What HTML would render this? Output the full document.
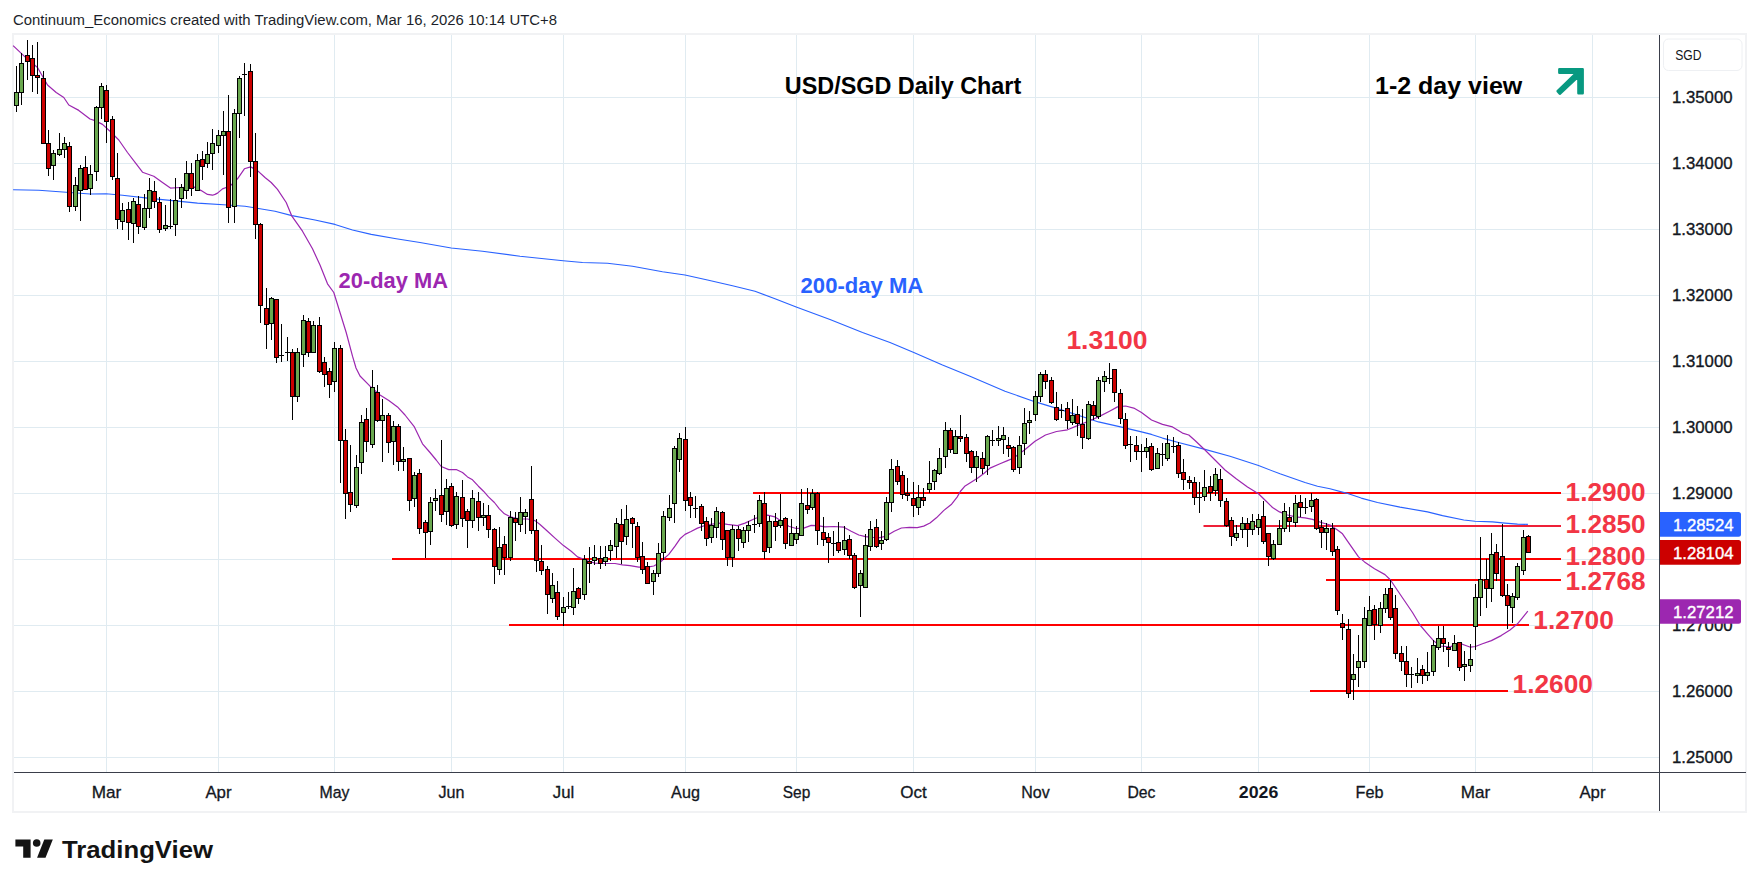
<!DOCTYPE html>
<html><head><meta charset="utf-8"><title>USD/SGD Daily Chart</title>
<style>
html,body{margin:0;padding:0;background:#fff;}
body{width:1759px;height:887px;overflow:hidden;font-family:"Liberation Sans",sans-serif;}
svg{display:block}
text{font-family:"Liberation Sans",sans-serif;}
</style></head><body>
<svg width="1759" height="887" viewBox="0 0 1759 887">
<rect width="1759" height="887" fill="#fff"/>
<text x="13" y="24.6" font-size="14" fill="#1c1f2a" textLength="544" lengthAdjust="spacingAndGlyphs">Continuum_Economics created with TradingView.com, Mar 16, 2026 10:14 UTC+8</text>
<rect x="13" y="34" width="1733" height="778" fill="#fff" stroke="#f1f2f4" stroke-width="2"/>
<path d="M106 35h1v737h-1zM218 35h1v737h-1zM334 35h1v737h-1zM451 35h1v737h-1zM563 35h1v737h-1zM685 35h1v737h-1zM796 35h1v737h-1zM913 35h1v737h-1zM1035 35h1v737h-1zM1141 35h1v737h-1zM1258 35h1v737h-1zM1369 35h1v737h-1zM1475 35h1v737h-1zM1592 35h1v737h-1zM14 97h1645v1h-1645zM14 163h1645v1h-1645zM14 229h1645v1h-1645zM14 295h1645v1h-1645zM14 361h1645v1h-1645zM14 427h1645v1h-1645zM14 493h1645v1h-1645zM14 559h1645v1h-1645zM14 625h1645v1h-1645zM14 691h1645v1h-1645zM14 757h1645v1h-1645z" fill="#e0ebf1" shape-rendering="crispEdges"/>
<path d="M753 492h808v2h-808zM392 558h1169v2h-1169zM1326 579h235v2h-235zM509 624h1020v2h-1020zM1310 690h198v2h-198z" fill="#ff0000" shape-rendering="crispEdges"/>
<rect x="1203.5" y="525" width="357.5" height="2" fill="#ee2038"/>
<path d="M13.1 189.8 L38.8 190.2 L66.2 192.2 L90.0 194.0 L106.2 193.8 L122.5 195.2 L147.5 198.1 L172.5 200.6 L197.5 203.1 L227.5 205.0 L245.0 206.2 L275.0 211.2 L291.9 215.6 L315.0 220.0 L335.0 224.4 L352.5 230.0 L371.2 234.4 L396.2 238.8 L420.0 242.5 L451.2 248.0 L482.5 251.2 L520.0 256.2 L563.2 260.8 L582.5 262.5 L607.5 263.2 L632.5 266.2 L662.5 271.8 L685.0 275.0 L707.5 280.0 L732.5 285.8 L755.0 291.2 L775.0 298.8 L796.2 307.0 L830.0 319.5 L862.5 332.5 L890.0 342.5 L913.8 352.5 L942.5 365.0 L970.0 376.2 L1005.0 391.2 L1035.5 401.9 L1060.0 409.4 L1085.0 417.5 L1098.5 421.9 L1120.5 426.9 L1141.5 431.9 L1151.5 434.4 L1162.5 438.1 L1178.5 442.5 L1205.0 449.4 L1230.0 456.2 L1258.5 465.6 L1280.0 473.8 L1305.0 482.5 L1317.5 486.2 L1330.0 488.8 L1346.2 493.1 L1361.2 498.1 L1377.5 502.5 L1400.0 507.1 L1427.5 511.9 L1442.5 515.6 L1463.8 520.0 L1475.0 521.2 L1492.5 521.9 L1505.0 523.1 L1517.5 524.1 L1527.9 524.4" fill="none" stroke="#2962ff" stroke-width="1.1" stroke-linejoin="round"/>
<path d="M13.1 45.6 L25.0 56.9 L37.5 67.5 L47.5 85.0 L56.2 92.5 L63.8 97.5 L68.8 105.0 L78.8 110.4 L90.0 119.0 L95.0 120.6 L102.5 124.4 L110.0 131.2 L118.8 140.0 L127.5 152.5 L136.2 163.8 L142.5 172.2 L153.8 176.2 L162.5 182.5 L170.4 188.1 L180.0 187.5 L195.0 187.2 L201.2 190.6 L207.5 194.4 L212.5 195.2 L215.0 194.4 L217.5 193.1 L222.5 188.9 L227.5 187.0 L231.2 185.0 L237.5 178.8 L244.4 168.8 L250.6 166.9 L257.5 170.6 L265.0 177.5 L271.2 182.5 L277.5 189.4 L286.2 202.5 L291.9 216.2 L302.5 231.2 L312.5 248.8 L320.0 265.0 L327.5 283.8 L333.8 292.5 L340.0 312.5 L346.2 332.5 L352.5 356.2 L356.0 368.0 L360.0 376.0 L370.0 386.2 L380.0 395.0 L388.8 400.6 L397.5 406.9 L405.0 415.0 L414.4 426.9 L422.5 443.8 L430.0 452.5 L436.2 460.0 L441.2 466.5 L448.8 469.6 L456.2 469.5 L462.5 472.5 L467.5 476.9 L472.5 479.8 L478.4 486.2 L483.5 491.2 L488.5 496.9 L494.4 502.5 L499.4 508.8 L504.4 513.8 L510.4 516.9 L515.4 518.1 L520.4 518.8 L527.5 519.0 L535.0 520.6 L540.0 524.5 L547.5 531.2 L555.0 538.1 L563.5 545.6 L571.2 551.2 L577.5 556.9 L582.5 558.8 L588.8 561.2 L595.0 563.1 L605.0 563.5 L615.0 563.5 L622.5 564.8 L630.0 565.6 L638.8 567.2 L647.5 567.2 L653.8 566.0 L660.0 562.5 L663.8 558.8 L668.8 554.4 L675.0 546.2 L680.0 538.8 L685.0 534.4 L691.0 531.5 L697.5 528.1 L706.2 525.0 L718.8 523.1 L727.5 524.4 L737.5 525.6 L745.0 523.1 L754.5 518.8 L761.2 516.2 L767.5 515.2 L775.0 516.9 L780.5 520.6 L788.8 526.2 L796.2 528.5 L803.8 528.1 L811.2 525.4 L817.5 525.6 L825.0 526.9 L833.8 526.5 L843.8 527.2 L851.2 531.2 L858.8 535.0 L865.5 536.7 L873.8 537.5 L880.0 537.6 L885.0 536.4 L888.7 534.5 L894.2 531.3 L901.4 528.0 L909.4 527.4 L917.3 527.6 L923.7 526.1 L930.0 523.0 L936.4 517.8 L943.6 510.6 L951.6 504.2 L957.1 497.1 L960.3 491.5 L965.1 485.9 L971.5 481.9 L977.8 478.0 L984.2 473.2 L990.0 468.1 L1000.0 463.8 L1007.5 460.6 L1013.8 458.0 L1017.5 455.0 L1024.5 450.0 L1035.0 441.2 L1045.5 435.0 L1056.5 431.5 L1067.5 429.8 L1077.5 425.6 L1088.5 421.2 L1098.5 416.9 L1109.5 411.2 L1117.5 406.9 L1125.5 406.0 L1133.8 408.1 L1141.5 412.5 L1151.5 420.0 L1162.5 424.4 L1172.5 426.9 L1182.5 433.1 L1188.8 435.0 L1195.0 440.5 L1205.0 450.0 L1215.0 460.0 L1225.0 470.0 L1236.2 478.8 L1247.5 486.9 L1258.5 493.8 L1266.2 501.2 L1272.5 507.5 L1279.5 511.9 L1287.5 515.0 L1295.5 516.9 L1305.0 517.8 L1312.5 519.4 L1321.2 522.5 L1330.0 525.0 L1337.5 530.0 L1342.5 533.8 L1347.5 541.2 L1358.5 556.9 L1364.5 561.9 L1374.5 568.8 L1385.0 574.6 L1390.5 580.0 L1395.5 587.5 L1404.0 600.0 L1412.5 612.5 L1420.0 625.0 L1427.5 633.8 L1433.5 640.6 L1440.0 646.0 L1450.0 646.9 L1459.5 643.1 L1465.0 645.2 L1470.5 647.2 L1475.4 646.5 L1482.5 643.8 L1491.4 640.6 L1501.2 635.6 L1510.0 630.0 L1517.5 623.8 L1523.8 616.2 L1527.8 611.2" fill="none" stroke="#9c27b0" stroke-width="1.2" stroke-linejoin="round"/>
<g shape-rendering="crispEdges"><path d="M16 66h1v46h-1zM14 92h5v14h-5zM21 53h1v52h-1zM19 63h5v30h-5zM27 40h1v40h-1zM25 55h5v7h-5zM32 45h1v47h-1zM30 58h5v18h-5zM37 42h1v52h-1zM35 75h5v3h-5zM43 71h1v73h-1zM41 78h5v66h-5zM48 130h1v46h-1zM46 143h5v26h-5zM53 150h1v30h-1zM51 153h5v13h-5zM59 133h1v23h-1zM57 149h5v6h-5zM64 137h1v21h-1zM62 143h5v7h-5zM69 142h1v70h-1zM67 146h5v61h-5zM75 177h1v34h-1zM73 185h5v22h-5zM80 165h1v56h-1zM78 168h5v23h-5zM85 156h1v34h-1zM83 167h5v23h-5zM90 165h1v30h-1zM88 174h5v15h-5zM96 106h1v75h-1zM94 107h5v65h-5zM101 83h1v36h-1zM99 86h5v22h-5zM106 85h1v58h-1zM104 90h5v32h-5zM112 116h1v64h-1zM110 119h5v58h-5zM117 153h1v76h-1zM115 178h5v42h-5zM122 203h1v27h-1zM120 210h5v12h-5zM128 202h1v38h-1zM126 209h5v14h-5zM133 198h1v45h-1zM131 201h5v23h-5zM138 196h1v38h-1zM136 204h5v23h-5zM144 194h1v36h-1zM142 208h5v20h-5zM149 178h1v40h-1zM147 190h5v19h-5zM154 181h1v27h-1zM152 191h5v11h-5zM159 197h1v36h-1zM157 202h5v28h-5zM165 205h1v26h-1zM163 225h5v4h-5zM170 199h1v30h-1zM168 226h5v1h-5zM175 178h1v58h-1zM173 200h5v25h-5zM181 184h1v24h-1zM179 187h5v12h-5zM186 161h1v38h-1zM184 173h5v18h-5zM191 163h1v33h-1zM189 173h5v16h-5zM197 154h1v37h-1zM195 160h5v31h-5zM202 151h1v29h-1zM200 159h5v8h-5zM207 142h1v26h-1zM205 154h5v10h-5zM212 129h1v41h-1zM210 143h5v11h-5zM218 130h1v23h-1zM216 135h5v11h-5zM223 111h1v64h-1zM221 131h5v5h-5zM228 95h1v128h-1zM226 131h5v77h-5zM234 109h1v114h-1zM232 113h5v94h-5zM239 76h1v62h-1zM237 78h5v36h-5zM244 63h1v53h-1zM242 74h5v1h-5zM250 64h1v113h-1zM248 71h5v91h-5zM255 133h1v106h-1zM253 161h5v64h-5zM260 223h1v100h-1zM258 224h5v82h-5zM266 288h1v61h-1zM264 308h5v17h-5zM271 297h1v43h-1zM269 298h5v26h-5zM276 299h1v64h-1zM274 299h5v59h-5zM281 324h1v38h-1zM279 355h5v1h-5zM287 337h1v24h-1zM285 352h5v1h-5zM292 349h1v71h-1zM290 352h5v45h-5zM297 348h1v54h-1zM295 352h5v45h-5zM303 315h1v52h-1zM301 320h5v35h-5zM308 318h1v39h-1zM306 321h5v32h-5zM313 321h1v32h-1zM311 325h5v28h-5zM319 317h1v56h-1zM317 325h5v47h-5zM324 357h1v30h-1zM322 362h5v13h-5zM329 368h1v30h-1zM327 371h5v14h-5zM334 342h1v50h-1zM332 348h5v34h-5zM340 345h1v138h-1zM338 348h5v93h-5zM345 429h1v90h-1zM343 440h5v54h-5zM350 445h1v67h-1zM348 492h5v13h-5zM356 455h1v53h-1zM354 467h5v39h-5zM361 415h1v59h-1zM359 422h5v41h-5zM366 408h1v44h-1zM364 419h5v23h-5zM372 370h1v78h-1zM370 387h5v58h-5zM377 385h1v37h-1zM375 392h5v29h-5zM382 399h1v63h-1zM380 415h5v6h-5zM388 413h1v40h-1zM386 415h5v28h-5zM393 421h1v44h-1zM391 426h5v16h-5zM398 424h1v47h-1zM396 426h5v36h-5zM403 447h1v24h-1zM401 459h5v3h-5zM409 458h1v53h-1zM407 458h5v43h-5zM414 472h1v35h-1zM412 475h5v24h-5zM419 469h1v65h-1zM417 473h5v56h-5zM425 520h1v38h-1zM423 522h5v11h-5zM430 497h1v48h-1zM428 502h5v30h-5zM435 489h1v22h-1zM433 498h5v3h-5zM441 440h1v82h-1zM439 495h5v20h-5zM446 479h1v46h-1zM444 488h5v24h-5zM451 483h1v44h-1zM449 486h5v40h-5zM456 492h1v37h-1zM454 496h5v29h-5zM462 480h1v47h-1zM460 497h5v22h-5zM467 509h1v39h-1zM465 511h5v10h-5zM472 490h1v38h-1zM470 498h5v23h-5zM478 492h1v39h-1zM476 501h5v17h-5zM483 503h1v23h-1zM481 515h5v3h-5zM488 505h1v33h-1zM486 515h5v15h-5zM494 528h1v56h-1zM492 529h5v38h-5zM499 527h1v48h-1zM497 547h5v23h-5zM504 536h1v39h-1zM502 544h5v14h-5zM510 511h1v50h-1zM508 517h5v41h-5zM515 512h1v29h-1zM513 518h5v5h-5zM520 497h1v35h-1zM518 512h5v13h-5zM525 509h1v25h-1zM523 512h5v5h-5zM531 466h1v68h-1zM529 499h5v32h-5zM536 519h1v53h-1zM534 530h5v31h-5zM541 545h1v30h-1zM539 561h5v10h-5zM547 566h1v48h-1zM545 569h5v26h-5zM552 573h1v30h-1zM550 585h5v14h-5zM557 581h1v39h-1zM555 592h5v25h-5zM563 597h1v29h-1zM561 607h5v6h-5zM568 592h1v17h-1zM566 606h5v1h-5zM573 568h1v47h-1zM571 591h5v17h-5zM578 587h1v17h-1zM576 588h5v11h-5zM584 555h1v45h-1zM582 559h5v36h-5zM589 547h1v36h-1zM587 561h5v3h-5zM594 545h1v20h-1zM592 557h5v4h-5zM600 546h1v23h-1zM598 558h5v6h-5zM605 546h1v20h-1zM603 557h5v5h-5zM610 540h1v21h-1zM608 545h5v6h-5zM616 518h1v40h-1zM614 523h5v24h-5zM621 509h1v55h-1zM619 524h5v18h-5zM626 505h1v40h-1zM624 519h5v18h-5zM632 517h1v31h-1zM630 518h5v6h-5zM637 522h1v40h-1zM635 526h5v32h-5zM642 542h1v32h-1zM640 556h5v14h-5zM647 562h1v22h-1zM645 566h5v18h-5zM653 570h1v25h-1zM651 573h5v9h-5zM658 543h1v34h-1zM656 553h5v21h-5zM663 511h1v49h-1zM661 516h5v37h-5zM669 495h1v26h-1zM667 508h5v10h-5zM674 446h1v77h-1zM672 448h5v56h-5zM679 433h1v39h-1zM677 438h5v22h-5zM685 427h1v84h-1zM683 439h5v62h-5zM690 492h1v26h-1zM688 497h5v9h-5zM695 496h1v22h-1zM693 508h5v1h-5zM701 504h1v27h-1zM699 506h5v18h-5zM706 517h1v29h-1zM704 521h5v18h-5zM711 518h1v25h-1zM709 525h5v13h-5zM716 507h1v31h-1zM714 511h5v17h-5zM722 511h1v39h-1zM720 512h5v28h-5zM727 530h1v36h-1zM725 530h5v28h-5zM732 525h1v42h-1zM730 529h5v29h-5zM738 526h1v25h-1zM736 529h5v10h-5zM743 527h1v21h-1zM741 530h5v13h-5zM748 521h1v21h-1zM746 525h5v6h-5zM754 515h1v18h-1zM752 524h5v1h-5zM759 495h1v32h-1zM757 500h5v24h-5zM764 492h1v67h-1zM762 503h5v49h-5zM769 516h1v37h-1zM767 521h5v27h-5zM775 513h1v28h-1zM773 521h5v6h-5zM780 494h1v34h-1zM778 520h5v6h-5zM785 517h1v32h-1zM783 518h5v26h-5zM791 519h1v27h-1zM789 533h5v13h-5zM796 526h1v18h-1zM794 533h5v7h-5zM801 489h1v47h-1zM799 503h5v33h-5zM807 488h1v26h-1zM805 505h5v5h-5zM812 489h1v21h-1zM810 493h5v15h-5zM817 492h1v53h-1zM815 493h5v38h-5zM823 517h1v29h-1zM821 532h5v8h-5zM828 533h1v30h-1zM826 537h5v6h-5zM833 531h1v25h-1zM831 543h5v1h-5zM838 522h1v31h-1zM836 542h5v9h-5zM844 526h1v29h-1zM842 540h5v10h-5zM849 535h1v24h-1zM847 539h5v17h-5zM854 553h1v36h-1zM852 555h5v33h-5zM860 570h1v47h-1zM858 573h5v13h-5zM865 534h1v54h-1zM863 545h5v43h-5zM870 521h1v30h-1zM868 529h5v18h-5zM876 519h1v29h-1zM874 527h5v20h-5zM881 531h1v19h-1zM879 540h5v4h-5zM886 497h1v44h-1zM884 502h5v38h-5zM891 459h1v53h-1zM889 469h5v34h-5zM897 460h1v25h-1zM895 466h5v16h-5zM902 471h1v28h-1zM900 475h5v20h-5zM907 478h1v23h-1zM905 493h5v3h-5zM913 482h1v35h-1zM911 498h5v8h-5zM918 485h1v30h-1zM916 497h5v11h-5zM923 488h1v18h-1zM921 497h5v4h-5zM929 461h1v32h-1zM927 483h5v7h-5zM934 469h1v21h-1zM932 470h5v12h-5zM939 448h1v27h-1zM937 458h5v16h-5zM945 422h1v46h-1zM943 430h5v27h-5zM950 428h1v25h-1zM948 430h5v20h-5zM955 430h1v24h-1zM953 436h5v18h-5zM960 415h1v27h-1zM958 436h5v3h-5zM966 434h1v28h-1zM964 437h5v17h-5zM971 450h1v23h-1zM969 451h5v17h-5zM976 451h1v31h-1zM974 456h5v12h-5zM982 452h1v22h-1zM980 458h5v11h-5zM987 435h1v40h-1zM985 436h5v30h-5zM992 430h1v16h-1zM990 440h5v1h-5zM998 426h1v20h-1zM996 438h5v3h-5zM1003 427h1v27h-1zM1001 435h5v5h-5zM1008 437h1v20h-1zM1006 445h5v4h-5zM1013 446h1v26h-1zM1011 447h5v23h-5zM1019 436h1v38h-1zM1017 445h5v23h-5zM1024 408h1v47h-1zM1022 423h5v21h-5zM1029 411h1v23h-1zM1027 420h5v3h-5zM1035 391h1v30h-1zM1033 396h5v19h-5zM1040 372h1v30h-1zM1038 374h5v23h-5zM1045 370h1v19h-1zM1043 374h5v8h-5zM1051 377h1v27h-1zM1049 380h5v23h-5zM1056 392h1v29h-1zM1054 407h5v13h-5zM1061 404h1v14h-1zM1059 410h5v1h-5zM1067 402h1v27h-1zM1065 408h5v13h-5zM1072 399h1v26h-1zM1070 415h5v8h-5zM1077 406h1v30h-1zM1075 414h5v10h-5zM1082 409h1v40h-1zM1080 424h5v14h-5zM1088 401h1v39h-1zM1086 404h5v35h-5zM1093 401h1v19h-1zM1091 405h5v11h-5zM1098 377h1v42h-1zM1096 380h5v37h-5zM1104 371h1v21h-1zM1102 376h5v6h-5zM1109 363h1v21h-1zM1107 378h5v1h-5zM1114 369h1v33h-1zM1112 369h5v24h-5zM1120 389h1v35h-1zM1118 393h5v26h-5zM1125 413h1v36h-1zM1123 419h5v27h-5zM1130 436h1v26h-1zM1128 444h5v1h-5zM1136 436h1v24h-1zM1134 445h5v7h-5zM1141 444h1v28h-1zM1139 451h5v1h-5zM1146 438h1v20h-1zM1144 447h5v5h-5zM1151 443h1v28h-1zM1149 446h5v24h-5zM1157 448h1v21h-1zM1155 453h5v16h-5zM1162 443h1v23h-1zM1160 454h5v1h-5zM1167 435h1v26h-1zM1165 443h5v16h-5zM1173 437h1v16h-1zM1171 446h5v1h-5zM1178 442h1v36h-1zM1176 445h5v29h-5zM1183 459h1v31h-1zM1181 472h5v8h-5zM1189 476h1v13h-1zM1187 480h5v3h-5zM1194 477h1v28h-1zM1192 482h5v16h-5zM1199 482h1v31h-1zM1197 497h5v1h-5zM1204 470h1v31h-1zM1202 487h5v10h-5zM1210 476h1v25h-1zM1208 486h5v7h-5zM1215 468h1v28h-1zM1213 474h5v17h-5zM1220 469h1v38h-1zM1218 479h5v22h-5zM1226 498h1v29h-1zM1224 501h5v25h-5zM1231 517h1v29h-1zM1229 520h5v17h-5zM1236 525h1v16h-1zM1234 533h5v5h-5zM1242 517h1v21h-1zM1240 523h5v7h-5zM1247 518h1v29h-1zM1245 523h5v7h-5zM1252 514h1v21h-1zM1250 521h5v9h-5zM1258 514h1v21h-1zM1256 519h5v9h-5zM1263 501h1v43h-1zM1261 516h5v26h-5zM1268 533h1v33h-1zM1266 533h5v24h-5zM1273 540h1v20h-1zM1271 544h5v15h-5zM1279 520h1v25h-1zM1277 528h5v17h-5zM1284 503h1v29h-1zM1282 511h5v18h-5zM1289 507h1v25h-1zM1287 517h5v5h-5zM1295 495h1v32h-1zM1293 503h5v20h-5zM1300 495h1v22h-1zM1298 502h5v6h-5zM1305 498h1v16h-1zM1303 507h5v1h-5zM1311 493h1v19h-1zM1309 500h5v7h-5zM1316 498h1v32h-1zM1314 499h5v30h-5zM1321 520h1v28h-1zM1319 527h5v6h-5zM1326 523h1v27h-1zM1324 528h5v5h-5zM1332 523h1v33h-1zM1330 528h5v24h-5zM1337 546h1v69h-1zM1335 549h5v62h-5zM1342 614h1v26h-1zM1340 623h5v5h-5zM1348 619h1v79h-1zM1346 629h5v65h-5zM1353 654h1v46h-1zM1351 674h5v6h-5zM1358 635h1v52h-1zM1356 661h5v7h-5zM1364 607h1v61h-1zM1362 618h5v44h-5zM1369 596h1v30h-1zM1367 610h5v16h-5zM1374 605h1v35h-1zM1372 609h5v16h-5zM1380 602h1v31h-1zM1378 608h5v18h-5zM1385 588h1v25h-1zM1383 594h5v15h-5zM1390 580h1v40h-1zM1388 588h5v30h-5zM1395 595h1v64h-1zM1393 608h5v46h-5zM1401 646h1v25h-1zM1399 653h5v9h-5zM1406 646h1v41h-1zM1404 661h5v14h-5zM1411 667h1v21h-1zM1409 674h5v1h-5zM1417 658h1v25h-1zM1415 673h5v3h-5zM1422 665h1v19h-1zM1420 669h5v7h-5zM1427 652h1v29h-1zM1425 672h5v4h-5zM1433 640h1v36h-1zM1431 645h5v27h-5zM1438 626h1v24h-1zM1436 638h5v10h-5zM1443 626h1v26h-1zM1441 638h5v6h-5zM1448 642h1v25h-1zM1446 647h5v3h-5zM1454 635h1v16h-1zM1452 643h5v8h-5zM1459 642h1v29h-1zM1457 642h5v26h-5zM1464 651h1v30h-1zM1462 664h5v3h-5zM1470 644h1v28h-1zM1468 659h5v7h-5zM1475 584h1v66h-1zM1473 597h5v30h-5zM1480 537h1v79h-1zM1478 579h5v19h-5zM1486 559h1v49h-1zM1484 579h5v10h-5zM1491 533h1v69h-1zM1489 554h5v35h-5zM1496 544h1v37h-1zM1494 552h5v22h-5zM1502 524h1v73h-1zM1500 556h5v40h-5zM1507 584h1v45h-1zM1505 595h5v11h-5zM1512 593h1v30h-1zM1510 596h5v12h-5zM1517 563h1v37h-1zM1515 566h5v32h-5zM1523 530h1v45h-1zM1521 537h5v34h-5zM1528 535h1v18h-1zM1526 536h5v17h-5z" fill="#000"/>
<path d="M15 93h3v12h-3zM20 64h3v28h-3zM52 154h3v11h-3zM58 150h3v4h-3zM63 144h3v5h-3zM74 186h3v20h-3zM79 169h3v21h-3zM89 175h3v13h-3zM95 108h3v63h-3zM100 87h3v20h-3zM121 211h3v10h-3zM132 202h3v21h-3zM143 209h3v18h-3zM148 191h3v17h-3zM164 226h3v2h-3zM174 201h3v23h-3zM180 188h3v10h-3zM185 174h3v16h-3zM196 161h3v29h-3zM206 155h3v8h-3zM211 144h3v9h-3zM217 136h3v9h-3zM222 132h3v3h-3zM233 114h3v92h-3zM238 79h3v34h-3zM270 299h3v24h-3zM296 353h3v43h-3zM302 321h3v33h-3zM312 326h3v26h-3zM333 349h3v32h-3zM355 468h3v37h-3zM360 423h3v39h-3zM371 388h3v56h-3zM381 416h3v4h-3zM392 427h3v14h-3zM402 460h3v1h-3zM413 476h3v22h-3zM429 503h3v28h-3zM434 499h3v1h-3zM445 489h3v22h-3zM455 497h3v27h-3zM471 499h3v21h-3zM482 516h3v1h-3zM498 548h3v21h-3zM509 518h3v39h-3zM519 513h3v11h-3zM524 513h3v3h-3zM551 586h3v12h-3zM562 608h3v4h-3zM572 592h3v15h-3zM583 560h3v34h-3zM593 558h3v2h-3zM604 558h3v3h-3zM609 546h3v4h-3zM615 524h3v22h-3zM625 520h3v16h-3zM652 574h3v7h-3zM657 554h3v19h-3zM662 517h3v35h-3zM668 509h3v8h-3zM673 449h3v54h-3zM678 439h3v20h-3zM710 526h3v11h-3zM715 512h3v15h-3zM731 530h3v27h-3zM742 531h3v11h-3zM747 526h3v4h-3zM758 501h3v22h-3zM768 522h3v25h-3zM779 521h3v4h-3zM790 534h3v11h-3zM795 534h3v5h-3zM800 504h3v31h-3zM811 494h3v13h-3zM843 541h3v8h-3zM859 574h3v11h-3zM864 546h3v41h-3zM869 530h3v16h-3zM880 541h3v2h-3zM885 503h3v36h-3zM890 470h3v32h-3zM917 498h3v9h-3zM928 484h3v5h-3zM933 471h3v10h-3zM938 459h3v14h-3zM944 431h3v25h-3zM954 437h3v16h-3zM975 457h3v10h-3zM986 437h3v28h-3zM997 439h3v1h-3zM1002 436h3v3h-3zM1018 446h3v21h-3zM1023 424h3v19h-3zM1028 421h3v1h-3zM1034 397h3v17h-3zM1039 375h3v21h-3zM1071 416h3v6h-3zM1087 405h3v33h-3zM1097 381h3v35h-3zM1103 377h3v4h-3zM1145 448h3v3h-3zM1156 454h3v14h-3zM1166 444h3v14h-3zM1203 488h3v8h-3zM1214 475h3v15h-3zM1235 534h3v3h-3zM1241 524h3v5h-3zM1251 522h3v7h-3zM1257 520h3v7h-3zM1272 545h3v13h-3zM1278 529h3v15h-3zM1283 512h3v16h-3zM1294 504h3v18h-3zM1310 501h3v5h-3zM1325 529h3v3h-3zM1352 675h3v4h-3zM1357 662h3v5h-3zM1363 619h3v42h-3zM1368 611h3v14h-3zM1379 609h3v16h-3zM1384 595h3v13h-3zM1416 674h3v1h-3zM1426 673h3v2h-3zM1432 646h3v25h-3zM1437 639h3v8h-3zM1453 644h3v6h-3zM1463 665h3v1h-3zM1469 660h3v5h-3zM1474 598h3v28h-3zM1479 580h3v17h-3zM1490 555h3v33h-3zM1511 597h3v10h-3zM1516 567h3v30h-3zM1522 538h3v32h-3z" fill="#6aa84f"/>
<path d="M26 56h3v5h-3zM31 59h3v16h-3zM36 76h3v1h-3zM42 79h3v64h-3zM47 144h3v24h-3zM68 147h3v59h-3zM84 168h3v21h-3zM105 91h3v30h-3zM111 120h3v56h-3zM116 179h3v40h-3zM127 210h3v12h-3zM137 205h3v21h-3zM153 192h3v9h-3zM158 203h3v26h-3zM190 174h3v14h-3zM201 160h3v6h-3zM227 132h3v75h-3zM249 72h3v89h-3zM254 162h3v62h-3zM259 225h3v80h-3zM265 309h3v15h-3zM275 300h3v57h-3zM291 353h3v43h-3zM307 322h3v30h-3zM318 326h3v45h-3zM323 363h3v11h-3zM328 372h3v12h-3zM339 349h3v91h-3zM344 441h3v52h-3zM349 493h3v11h-3zM365 420h3v21h-3zM376 393h3v27h-3zM387 416h3v26h-3zM397 427h3v34h-3zM408 459h3v41h-3zM418 474h3v54h-3zM424 523h3v9h-3zM440 496h3v18h-3zM450 487h3v38h-3zM461 498h3v20h-3zM466 512h3v8h-3zM477 502h3v15h-3zM487 516h3v13h-3zM493 530h3v36h-3zM503 545h3v12h-3zM514 519h3v3h-3zM530 500h3v30h-3zM535 531h3v29h-3zM540 562h3v8h-3zM546 570h3v24h-3zM556 593h3v23h-3zM577 589h3v9h-3zM588 562h3v1h-3zM599 559h3v4h-3zM620 525h3v16h-3zM631 519h3v4h-3zM636 527h3v30h-3zM641 557h3v12h-3zM646 567h3v16h-3zM684 440h3v60h-3zM689 498h3v7h-3zM700 507h3v16h-3zM705 522h3v16h-3zM721 513h3v26h-3zM726 531h3v26h-3zM737 530h3v8h-3zM763 504h3v47h-3zM774 522h3v4h-3zM784 519h3v24h-3zM806 506h3v3h-3zM816 494h3v36h-3zM822 533h3v6h-3zM827 538h3v4h-3zM837 543h3v7h-3zM848 540h3v15h-3zM853 556h3v31h-3zM875 528h3v18h-3zM896 467h3v14h-3zM901 476h3v18h-3zM906 494h3v1h-3zM912 499h3v6h-3zM922 498h3v2h-3zM949 431h3v18h-3zM959 437h3v1h-3zM965 438h3v15h-3zM970 452h3v15h-3zM981 459h3v9h-3zM1007 446h3v2h-3zM1012 448h3v21h-3zM1044 375h3v6h-3zM1050 381h3v21h-3zM1055 408h3v11h-3zM1066 409h3v11h-3zM1076 415h3v8h-3zM1081 425h3v12h-3zM1092 406h3v9h-3zM1113 370h3v22h-3zM1119 394h3v24h-3zM1124 420h3v25h-3zM1135 446h3v5h-3zM1150 447h3v22h-3zM1177 446h3v27h-3zM1182 473h3v6h-3zM1188 481h3v1h-3zM1193 483h3v14h-3zM1209 487h3v5h-3zM1219 480h3v20h-3zM1225 502h3v23h-3zM1230 521h3v15h-3zM1246 524h3v5h-3zM1262 517h3v24h-3zM1267 534h3v22h-3zM1288 518h3v3h-3zM1299 503h3v4h-3zM1315 500h3v28h-3zM1320 528h3v4h-3zM1331 529h3v22h-3zM1336 550h3v60h-3zM1341 624h3v3h-3zM1347 630h3v63h-3zM1373 610h3v14h-3zM1389 589h3v28h-3zM1394 609h3v44h-3zM1400 654h3v7h-3zM1405 662h3v12h-3zM1421 670h3v5h-3zM1442 639h3v4h-3zM1447 648h3v1h-3zM1458 643h3v24h-3zM1485 580h3v8h-3zM1495 553h3v20h-3zM1501 557h3v38h-3zM1506 596h3v9h-3zM1527 537h3v15h-3z" fill="#cc0000"/></g>
<rect x="14" y="772" width="1732" height="1" fill="#3a3e4a" shape-rendering="crispEdges"/>
<rect x="1659" y="35" width="1" height="776" fill="#3a3e4a" shape-rendering="crispEdges"/>
<text x="1672" y="102.7" font-size="16.7" fill="#131722" stroke="#131722" stroke-width="0.35" textLength="60.5" lengthAdjust="spacingAndGlyphs">1.35000</text>
<text x="1672" y="168.7" font-size="16.7" fill="#131722" stroke="#131722" stroke-width="0.35" textLength="60.5" lengthAdjust="spacingAndGlyphs">1.34000</text>
<text x="1672" y="234.7" font-size="16.7" fill="#131722" stroke="#131722" stroke-width="0.35" textLength="60.5" lengthAdjust="spacingAndGlyphs">1.33000</text>
<text x="1672" y="300.7" font-size="16.7" fill="#131722" stroke="#131722" stroke-width="0.35" textLength="60.5" lengthAdjust="spacingAndGlyphs">1.32000</text>
<text x="1672" y="366.7" font-size="16.7" fill="#131722" stroke="#131722" stroke-width="0.35" textLength="60.5" lengthAdjust="spacingAndGlyphs">1.31000</text>
<text x="1672" y="432.7" font-size="16.7" fill="#131722" stroke="#131722" stroke-width="0.35" textLength="60.5" lengthAdjust="spacingAndGlyphs">1.30000</text>
<text x="1672" y="498.7" font-size="16.7" fill="#131722" stroke="#131722" stroke-width="0.35" textLength="60.5" lengthAdjust="spacingAndGlyphs">1.29000</text>
<text x="1672" y="630.7" font-size="16.7" fill="#131722" stroke="#131722" stroke-width="0.35" textLength="60.5" lengthAdjust="spacingAndGlyphs">1.27000</text>
<text x="1672" y="696.7" font-size="16.7" fill="#131722" stroke="#131722" stroke-width="0.35" textLength="60.5" lengthAdjust="spacingAndGlyphs">1.26000</text>
<text x="1672" y="762.7" font-size="16.7" fill="#131722" stroke="#131722" stroke-width="0.35" textLength="60.5" lengthAdjust="spacingAndGlyphs">1.25000</text>
<path d="M1660 599.3H1738.5a2.5 2.5 0 0 1 2.5 2.5V621.3a2.5 2.5 0 0 1 -2.5 2.5H1660z" fill="#9c27b0"/>
<text x="1673" y="618.0" font-size="16.7" fill="#fff" stroke="#fff" stroke-width="0.35" textLength="60.5" lengthAdjust="spacingAndGlyphs">1.27212</text>
<path d="M1660 512H1738.5a2.5 2.5 0 0 1 2.5 2.5V534.3a2.5 2.5 0 0 1 -2.5 2.5H1660z" fill="#2962ff"/>
<text x="1673" y="530.9" font-size="16.7" fill="#fff" stroke="#fff" stroke-width="0.35" textLength="60.5" lengthAdjust="spacingAndGlyphs">1.28524</text>
<path d="M1660 540H1738.5a2.5 2.5 0 0 1 2.5 2.5V562.3a2.5 2.5 0 0 1 -2.5 2.5H1660z" fill="#cc0000"/>
<text x="1673" y="558.9" font-size="16.7" fill="#fff" stroke="#fff" stroke-width="0.35" textLength="60.5" lengthAdjust="spacingAndGlyphs">1.28104</text>
<rect x="1663.5" y="39" width="78.5" height="31.5" rx="5" fill="#fff" stroke="#eef0f3" stroke-width="1"/>
<text x="1675.2" y="59.8" font-size="13.8" fill="#131722" textLength="26.3" lengthAdjust="spacingAndGlyphs">SGD</text>
<text x="91.7" y="797.8" font-size="16.7" fill="#131722" stroke="#131722" stroke-width="0.3" textLength="29.6" lengthAdjust="spacingAndGlyphs">Mar</text>
<text x="205.4" y="797.8" font-size="16.7" fill="#131722" stroke="#131722" stroke-width="0.3" textLength="26.2" lengthAdjust="spacingAndGlyphs">Apr</text>
<text x="319.5" y="797.8" font-size="16.7" fill="#131722" stroke="#131722" stroke-width="0.3" textLength="30" lengthAdjust="spacingAndGlyphs">May</text>
<text x="438.5" y="797.8" font-size="16.7" fill="#131722" stroke="#131722" stroke-width="0.3" textLength="26" lengthAdjust="spacingAndGlyphs">Jun</text>
<text x="552.8" y="797.8" font-size="16.7" fill="#131722" stroke="#131722" stroke-width="0.3" textLength="21.5" lengthAdjust="spacingAndGlyphs">Jul</text>
<text x="671.1" y="797.8" font-size="16.7" fill="#131722" stroke="#131722" stroke-width="0.3" textLength="28.8" lengthAdjust="spacingAndGlyphs">Aug</text>
<text x="782.8" y="797.8" font-size="16.7" fill="#131722" stroke="#131722" stroke-width="0.3" textLength="27.5" lengthAdjust="spacingAndGlyphs">Sep</text>
<text x="900.2" y="797.8" font-size="16.7" fill="#131722" stroke="#131722" stroke-width="0.3" textLength="26.5" lengthAdjust="spacingAndGlyphs">Oct</text>
<text x="1021.2" y="797.8" font-size="16.7" fill="#131722" stroke="#131722" stroke-width="0.3" textLength="28.5" lengthAdjust="spacingAndGlyphs">Nov</text>
<text x="1127.5" y="797.8" font-size="16.7" fill="#131722" stroke="#131722" stroke-width="0.3" textLength="28" lengthAdjust="spacingAndGlyphs">Dec</text>
<text x="1238.8" y="797.8" font-size="16.7" fill="#131722" font-weight="bold" textLength="39.5" lengthAdjust="spacingAndGlyphs">2026</text>
<text x="1355.5" y="797.8" font-size="16.7" fill="#131722" stroke="#131722" stroke-width="0.3" textLength="28" lengthAdjust="spacingAndGlyphs">Feb</text>
<text x="1460.7" y="797.8" font-size="16.7" fill="#131722" stroke="#131722" stroke-width="0.3" textLength="29.6" lengthAdjust="spacingAndGlyphs">Mar</text>
<text x="1579.4" y="797.8" font-size="16.7" fill="#131722" stroke="#131722" stroke-width="0.3" textLength="26.2" lengthAdjust="spacingAndGlyphs">Apr</text>
<text x="784.8" y="93.5" font-size="24.2" font-weight="bold" fill="#000" textLength="236.4" lengthAdjust="spacingAndGlyphs">USD/SGD Daily Chart</text>
<text x="1375" y="93.5" font-size="24.2" font-weight="bold" fill="#000" textLength="147.3" lengthAdjust="spacingAndGlyphs">1-2 day view</text>
<text x="338.6" y="288.1" font-size="22.2" font-weight="bold" fill="#9c27b0" textLength="109.4" lengthAdjust="spacingAndGlyphs">20-day MA</text>
<text x="800.6" y="292.9" font-size="22.2" font-weight="bold" fill="#2962ff" textLength="122.6" lengthAdjust="spacingAndGlyphs">200-day MA</text>
<text x="1066.4" y="349.2" font-size="25.4" font-weight="bold" fill="#f23645" textLength="81" lengthAdjust="spacingAndGlyphs">1.3100</text>
<text x="1565.6" y="501" font-size="25.4" font-weight="bold" fill="#f23645" textLength="80" lengthAdjust="spacingAndGlyphs">1.2900</text>
<text x="1565.6" y="533.4" font-size="25.4" font-weight="bold" fill="#f23645" textLength="80" lengthAdjust="spacingAndGlyphs">1.2850</text>
<text x="1565.6" y="564.5" font-size="25.4" font-weight="bold" fill="#f23645" textLength="80" lengthAdjust="spacingAndGlyphs">1.2800</text>
<text x="1565.6" y="589.5" font-size="25.4" font-weight="bold" fill="#f23645" textLength="80" lengthAdjust="spacingAndGlyphs">1.2768</text>
<text x="1533.3" y="629" font-size="25.4" font-weight="bold" fill="#f23645" textLength="80.5" lengthAdjust="spacingAndGlyphs">1.2700</text>
<text x="1512.6" y="693" font-size="25.4" font-weight="bold" fill="#f23645" textLength="80.3" lengthAdjust="spacingAndGlyphs">1.2600</text>
<path d="M1559.35 69.25L1582.65 69.25L1582.65 93.25L1578.45 93.25L1578.45 76.44L1559.79 93.71L1557.62 91.26L1576.47 72.85L1559.35 72.85z" fill="#089981" stroke="#089981" stroke-width="2.5" stroke-linejoin="round"/>
<g fill="#131313"><path d="M15.4 839.4H30.6V857.8H23.2V846.6H15.4z"/><circle cx="36.7" cy="843" r="3.8"/><path d="M44.3 839.4H52.8L45.5 857.8H37.05z"/>
<text x="62" y="858" font-size="24" font-weight="bold" textLength="151" lengthAdjust="spacingAndGlyphs">TradingView</text></g>
</svg></body></html>
